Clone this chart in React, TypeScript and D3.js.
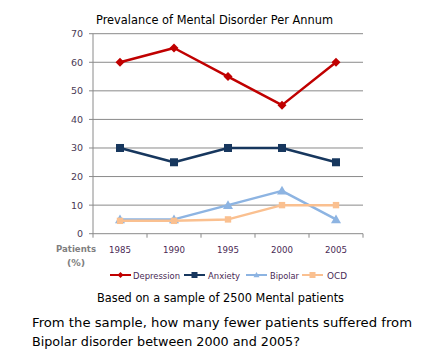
import React from "react";
import * as d3 from "d3";

const years = ["1985", "1990", "1995", "2000", "2005"];
const depression = [60, 65, 55, 45, 60];
const anxiety = [30, 25, 30, 30, 25];
const bipolar = [5, 5, 10, 15, 5];
const ocd = [4.5, 4.5, 5, 10, 10];
const yTicks = [0, 10, 20, 30, 40, 50, 60, 70];
const seriesNames = ["Depression", "Anxiety", "Bipolar", "OCD"];

const colors = ["#C00000", "#17375E", "#8DB4E2", "#FAC090"];
const markers = ["diamond", "square", "triangle", "square"];
const markerSize = [4.5, 4, 5, 3.2];

export default function App() {
  const left = 93, right = 363, top = 33.7, bottom = 233.7;
  const x = d3.scaleBand<string>().domain(years).range([left, right]);
  const y = d3.scaleLinear().domain([0, 70]).range([bottom, top]);
  const cx = (d: string) => (x(d) as number) + x.bandwidth() / 2;
  const allSeries = [depression, anxiety, bipolar, ocd];
  const line = d3.line<number>().x((_, i) => cx(years[i])).y((v) => y(v));

  const marker = (type: string, px: number, py: number, color: string, key: any, s: number) => {
    if (type === "diamond") {
      return <path key={key} d={`M${px},${py - s}L${px + s},${py}L${px},${py + s}L${px - s},${py}Z`} fill={color} />;
    }
    if (type === "square") {
      return <rect key={key} x={px - s} y={py - s} width={2 * s} height={2 * s} fill={color} />;
    }
    return <path key={key} d={`M${px},${py - s}L${px + s},${py + s * 0.75}L${px - s},${py + s * 0.75}Z`} fill={color} />;
  };

  const legendItems = [
    { x0: 110, tx: 133, w: 47 },
    { x0: 184, tx: 208, w: 32 },
    { x0: 246, tx: 270, w: 29 },
    { x0: 302, tx: 327, w: 20 },
  ];

  const boundaries = years.map((d) => x(d) as number).concat([right]);

  return (
    <svg width={426} height={357} style={{ position: "absolute", left: 0, top: 0 }} fontFamily="Tahoma, 'DejaVu Sans', Verdana, sans-serif">
      <rect width={426} height={357} fill="#fff" />
      <text x={96} y={24} fontSize={11.5} fill="#000" textLength={237} lengthAdjust="spacingAndGlyphs">Prevalance of Mental Disorder Per Annum</text>
      {yTicks.map((t) => (
        <g key={t}>
          {t > 0 && <line x1={left} x2={right} y1={y(t)} y2={y(t)} stroke="#8a8a8a" strokeWidth={1} />}
          <line x1={left - 4} x2={left} y1={y(t)} y2={y(t)} stroke="#8a8a8a" />
          <text x={83} y={y(t) + 3.5} textAnchor="end" fontSize={9.5} fill="#4a3a55">{t}</text>
        </g>
      ))}
      <line x1={left} x2={left} y1={top} y2={bottom} stroke="#8a8a8a" />
      <line x1={left} x2={right} y1={bottom} y2={bottom} stroke="#8a8a8a" />
      {boundaries.map((b, i) => (
        <line key={i} x1={b} x2={b} y1={bottom} y2={bottom + 4} stroke="#8a8a8a" />
      ))}
      {years.map((d) => (
        <text key={d} x={cx(d)} y={253} textAnchor="middle" fontSize={9.5} fill="#4a2a55" textLength={22} lengthAdjust="spacingAndGlyphs">{d}</text>
      ))}
      <text x={76} y={252} textAnchor="middle" fontSize={9.5} fontWeight="bold" fill="#7f7f7f" textLength={40} lengthAdjust="spacingAndGlyphs">Patients</text>
      <text x={76} y={266} textAnchor="middle" fontSize={9.5} fontWeight="bold" fill="#7f7f7f">(%)</text>
      {allSeries.map((s, si) => (
        <g key={si}>
          <path d={line(s) as string} fill="none" stroke={colors[si]} strokeWidth={2.5} strokeLinejoin="round" />
          {s.map((v, i) => marker(markers[si], cx(years[i]), y(v), colors[si], i, markerSize[si]))}
        </g>
      ))}
      {legendItems.map((it, i) => (
        <g key={i}>
          <line x1={it.x0} x2={it.x0 + 21} y1={275} y2={275} stroke={colors[i]} strokeWidth={2} />
          {marker(markers[i], it.x0 + 10.5, 275, colors[i], "m", 3)}
          <text x={it.tx} y={278.5} fontSize={8.5} fill="#4a2a55" textLength={it.w} lengthAdjust="spacingAndGlyphs">{seriesNames[i]}</text>
        </g>
      ))}
      <text x={97} y={302} fontSize={11.5} fill="#000" textLength={247} lengthAdjust="spacingAndGlyphs">Based on a sample of 2500 Mental patients</text>
      <text x={32} y={327} fontSize={13} fill="#000" textLength={380} lengthAdjust="spacingAndGlyphs">From the sample, how many fewer patients suffered from</text>
      <text x={32} y={346} fontSize={13} fill="#000" textLength={268} lengthAdjust="spacingAndGlyphs">Bipolar disorder between 2000 and 2005?</text>
    </svg>
  );
}
